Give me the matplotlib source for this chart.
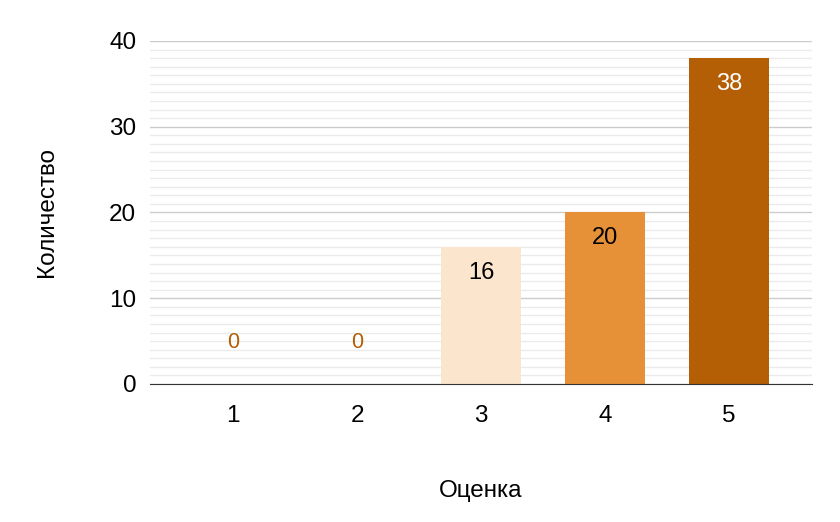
import matplotlib.pyplot as plt
from matplotlib.ticker import MultipleLocator

plt.rcParams['font.family'] = ['Liberation Sans', 'DejaVu Sans']

grades = ["1", "2", "3", "4", "5"]
counts = [0, 0, 16, 20, 38]
colors = ["#fce5cd", "#fce5cd", "#fce5cd", "#e69138", "#b45f06"]
label_colors = ["#b45f06", "#b45f06", "#000000", "#000000", "#ffffff"]

fig = plt.figure(figsize=(8.4, 5.22), dpi=100)
ax = fig.add_axes([0.1786, 0.2644, 0.7881, 0.6571])

x = list(range(1, len(grades) + 1))
ax.bar(x, counts, width=0.65, color=colors, zorder=3)

# подписи значений: нули над осью, остальные внутри столбца
for xi, c, lc in zip(x, counts, label_colors):
    if c == 0:
        ax.text(xi, 4.8, str(c), ha='center', va='center', color=lc, fontsize=15.5, zorder=4)
    else:
        ax.text(xi, c - 3.0, str(c), ha='center', va='center', color=lc, fontsize=17, zorder=4)

ax.set_xlim(1 - 0.669, 5 + 0.669)
ax.set_ylim(0, 40)
ax.set_xticks(x)
ax.set_xticklabels(grades)
ax.yaxis.set_major_locator(MultipleLocator(10))
ax.yaxis.set_minor_locator(MultipleLocator(1))
ax.grid(True, which='major', axis='y', color='#cccccc', linewidth=1, zorder=0)
ax.grid(True, which='minor', axis='y', color='#ebebeb', linewidth=1, zorder=0)
ax.tick_params(axis='both', which='both', length=0, labelsize=17.5, colors='#000000')
ax.tick_params(axis='x', pad=15)
ax.tick_params(axis='y', pad=10)

for side in ['top', 'right', 'left']:
    ax.spines[side].set_visible(False)
ax.spines['bottom'].set_color('#333333')
ax.spines['bottom'].set_zorder(5)

ax.set_xlabel("Оценка", fontsize=17.5, labelpad=38)
ax.set_ylabel("Количество", fontsize=17.5, labelpad=37)

fig.savefig("out.png", dpi=100)
